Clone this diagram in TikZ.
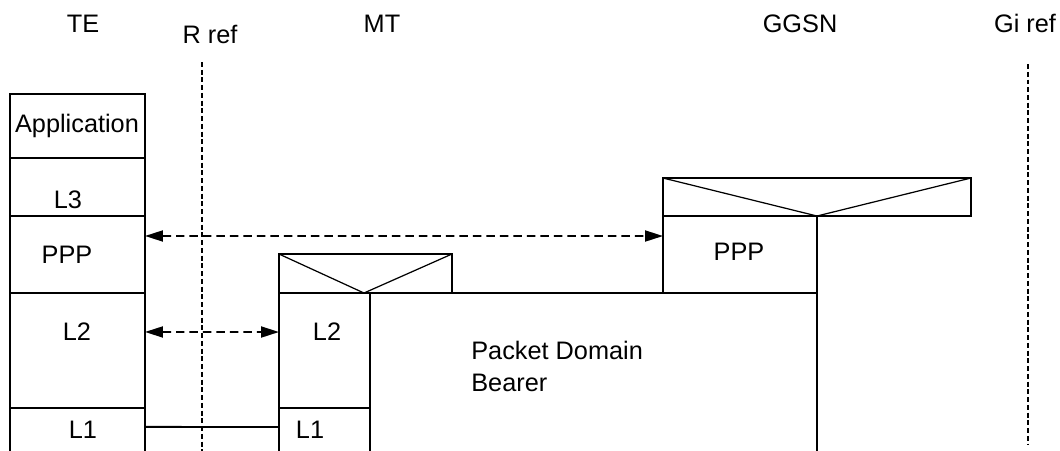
\documentclass[tikz,border=0pt]{standalone}
\usepackage{fontspec}
\setmainfont{Liberation Sans}
\usetikzlibrary{calc,positioning,arrows.meta}
\tikzset{layer/.style={draw,line width=1.1pt,inner sep=0pt,outer sep=0pt,minimum width=#1},layer/.default=2.7cm}
\tikzset{relay/.style={draw,line width=0.7pt,inner sep=0pt,outer sep=0pt,anchor=south west}}

\begin{document}
\begin{tikzpicture}[x=0.02cm,y=-0.02cm,
                    font=\fontsize{14.4}{18.2}\selectfont,
                    lbl/.style={anchor=base,inner sep=0pt},
                    refline/.style={line width=0.6pt,dash pattern=on 0.1cm off 0.055cm},
                    peer/.style={line width=1.1pt,dash pattern=on 0.17cm off 0.1cm,
                                 {Triangle[length=0.36cm,width=0.22cm]}-{Triangle[length=0.36cm,width=0.22cm]}}]

    \useasboundingbox (0,0) rectangle (1060,450);
    \clip (0,0) rectangle (1060,450);

    % Titulos
    \node [lbl] (te)   at (83,32)   {TE};
    \node [lbl] (rref) at (210,43)  {R ref};
    \node [lbl] (mt)   at (382,32)  {MT};
    \node [lbl] (ggsn) at (800,32)  {GGSN};
    \node [lbl] (giref) at (1025,32) {Gi ref};

    % Pontos de referencia
    \coordinate (rref top)  at (202,62);
    \coordinate (giref top) at (1028,64);
    \draw [refline] (rref top) -- ++(0,390);
    \draw [refline] (giref top) -- ++(0,380);

    % Pilha do TE
    \node [layer, minimum height=1.28cm] (te app) at (77.5,126) {};
    \node [layer, minimum height=1.16cm, below=0pt of te app] (te l3) {};
    \node [layer, minimum height=1.54cm, below=0pt of te l3] (te ppp) {};
    \node [layer, minimum height=2.3cm, below=0pt of te ppp] (te l2) {};
    \node [layer, minimum height=1.24cm, below=0pt of te l2] (te l1) {};

    \node [lbl] at (77,132) {Application};
    \node [lbl] at (68,208) {L3};
    \node [lbl] at (67,263) {PPP};
    \node [lbl] at (77,340) {L2};
    \node [lbl] at (83,438) {L1};

    % Pilha do MT
    \node [layer=1.82cm, minimum height=2.3cm] (mt l2) at (324.5,350.5) {};
    \node [layer=1.82cm, minimum height=1.24cm, below=0pt of mt l2] (mt l1) {};
    \node [relay, minimum width=3.46cm, minimum height=0.78cm] (mt relay) at (mt l2.north west) {};
    \coordinate (mt apex) at ($(mt l2.north east)+(-6,0)$);
    \draw [line width=0.7pt] (mt relay.north west) -- (mt apex) -- (mt relay.north east);

    \node [lbl] at (327,340) {L2};
    \node [lbl] at (310,438) {L1};

    % Pilha do GGSN
    \node [layer=3.08cm, minimum height=1.54cm] (ggsn ppp) at (740,254.5) {};
    \node [relay, minimum width=6.16cm, minimum height=0.76cm] (ggsn relay) at (ggsn ppp.north west) {};
    \draw [line width=0.7pt] (ggsn relay.north west) -- (ggsn ppp.north east) -- (ggsn relay.north east);

    \node [lbl] at (739,260) {PPP};

    % Portador
    \draw [line width=1.1pt] (mt l2.north east) -- (ggsn ppp.south east) -- ++(0,170);
    \node [anchor=north west, inner sep=0pt, align=left] (bearer) at (471,340.5)
        {Packet Domain\\Bearer};

    % Ligacoes entre pares
    \draw [peer] ($(te ppp.north east)+(0,20)$) -- ($(ggsn ppp.north west)+(0,20)$);
    \draw [peer] ($(te l2.north east)+(0,39)$) -- ($(mt l2.north west)+(0,39)$);
    \draw [line width=1.1pt] ($(te l1.north east)+(0,19)$) -- ($(mt l1.north west)+(0,19)$);

\end{tikzpicture}
\end{document}
